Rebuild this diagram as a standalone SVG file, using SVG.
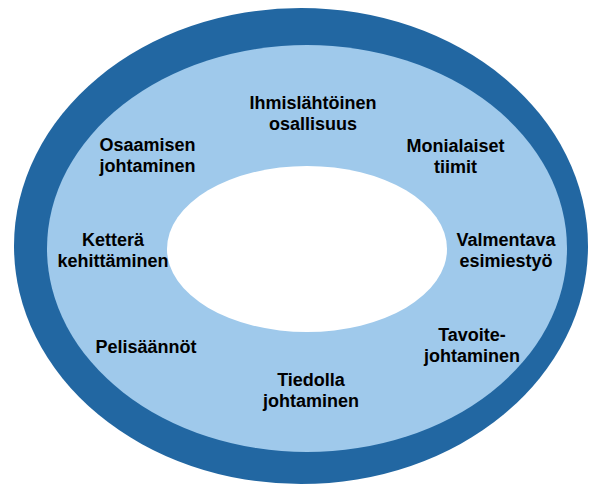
<svg xmlns="http://www.w3.org/2000/svg" width="591" height="487" viewBox="0 0 591 487">
<style>
.lbl{font-family:"Liberation Sans",Arial,sans-serif;font-weight:bold;font-size:18px;fill:#000;text-anchor:middle}
</style>
<rect width="591" height="487" fill="#ffffff"/>
<g id="rings">
<ellipse id="outer" cx="301" cy="246" rx="287" ry="238" fill="#2267a2"/>
<ellipse id="middle" cx="307" cy="248.5" rx="260" ry="203.5" fill="#9fc9eb"/>
<ellipse id="inner" cx="307" cy="249" rx="140" ry="83" fill="#ffffff"/>
</g>
<g id="connectors"></g>
<g id="n1"><text class="lbl" x="313" y="109">Ihmislähtöinen</text><text class="lbl" x="313" y="130">osallisuus</text></g>
<g id="n2"><text class="lbl" x="147.5" y="151">Osaamisen</text><text class="lbl" x="147.5" y="172">johtaminen</text></g>
<g id="n3"><text class="lbl" x="455.5" y="151.5">Monialaiset</text><text class="lbl" x="455.5" y="172.5">tiimit</text></g>
<g id="n4"><text class="lbl" x="113" y="246">Ketterä</text><text class="lbl" x="113" y="267">kehittäminen</text></g>
<g id="n5"><text class="lbl" x="506" y="246">Valmentava</text><text class="lbl" x="506" y="267">esimiestyö</text></g>
<g id="n6"><text class="lbl" x="146" y="352.5">Pelisäännöt</text></g>
<g id="n7"><text class="lbl" x="472" y="340.5">Tavoite-</text><text class="lbl" x="472" y="361.5">johtaminen</text></g>
<g id="n8"><text class="lbl" x="311" y="386">Tiedolla</text><text class="lbl" x="311" y="407">johtaminen</text></g>
</svg>
